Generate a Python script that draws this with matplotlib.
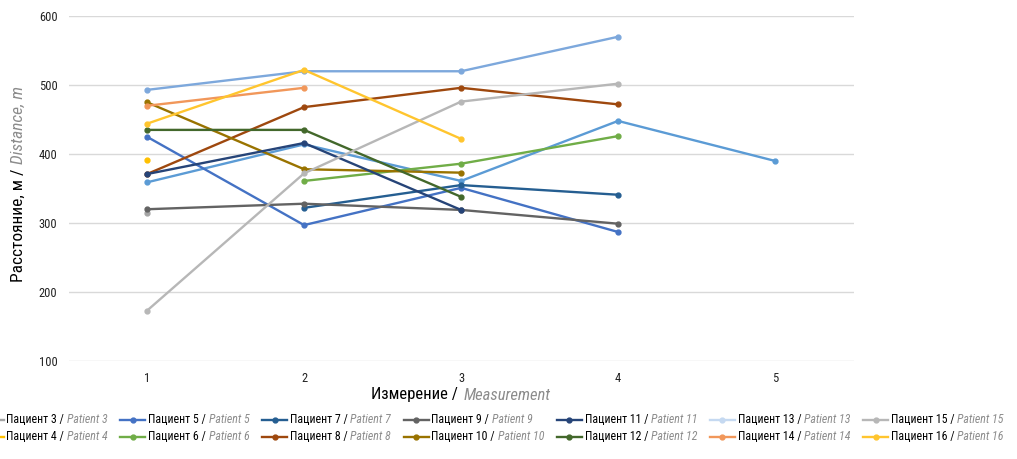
#!/usr/bin/env python3
"""
Distance per measurement, patients 3-16
"""

import numpy as np
import matplotlib
matplotlib.use("Agg")
import matplotlib.pyplot as plt
from matplotlib import font_manager
from matplotlib.lines import Line2D
from matplotlib.offsetbox import (AnchoredOffsetbox, HPacker, VPacker,
                                  TextArea, DrawingArea)

nan = np.nan

measurements = [1, 2, 3, 4, 5]

# one row per patient, nan = no measurement
patient_1 = [359, 414, 361, 448, 390]      # legend entry cut off in the source
patient_3 = [315, nan, nan, nan, nan]
patient_4 = [391, nan, nan, nan, nan]
patient_5 = [425, 297, 351, 287, nan]
patient_6 = [nan, 361, 386, 426, nan]
patient_7 = [nan, 322, 355, 341, nan]
patient_8 = [371, 468, 496, 472, nan]
patient_9 = [320, 328, 319, 299, nan]
patient_10 = [475, 378, 373, nan, nan]
patient_11 = [371, 416, 319, nan, nan]
patient_12 = [435, 435, 338, nan, nan]
patient_13 = [493, 520, 520, 570, nan]
patient_14 = [470, 496, nan, nan, nan]
patient_15 = [173, 372, 476, 502, nan]
patient_16 = [444, 522, 422, nan, nan]

patient_ids = [3, 4, 5, 6, 7, 8, 9, 10, 11, 12, 13, 14, 15, 16]
patient_values = [patient_3, patient_4, patient_5, patient_6, patient_7,
                  patient_8, patient_9, patient_10, patient_11, patient_12,
                  patient_13, patient_14, patient_15, patient_16]

line_colors = {1: "#5B9BD5", 3: "#A5A5A5", 4: "#FFC000", 5: "#4472C4",
               6: "#70AD47", 7: "#255E91", 8: "#9E480E", 9: "#636363",
               10: "#997300", 11: "#264478", 12: "#43682B", 13: "#7DA8DC",
               14: "#F1975A", 15: "#B7B7B7", 16: "#FFC52E"}
legend_colors = dict(line_colors)
legend_colors[13] = "#C5D9F1"

y_ticks = [100, 200, 300, 400, 500, 600]

# pick a narrow font if there is one
available = {f.name for f in font_manager.fontManager.ttflist}
family = "DejaVu Sans"
for name in ["Liberation Sans Narrow", "Roboto Condensed", "Open Sans Condensed"]:
    if name in available:
        family = name
        break
plt.rcParams["font.family"] = [family, "DejaVu Sans"]

fig = plt.figure(figsize=(10.17, 4.59), dpi=100)
ax = fig.add_axes([0.0674, 0.2135, 0.7719, 0.7515])

ax.plot(measurements, patient_1, color=line_colors[1], lw=1.7,
        marker="o", ms=3.5)
for pid, vals in zip(patient_ids, patient_values):
    ax.plot(measurements, vals, color=line_colors[pid], lw=1.7,
            marker="o", ms=3.5)

ax.set_xlim(0.5, 5.5)
ax.set_ylim(100, 600)
ax.set_xticks(measurements)
ax.set_yticks(y_ticks)
ax.tick_params(length=0, labelsize=9, colors="#222222", pad=8)
ax.grid(axis="y", color="#D9D9D9", lw=1)
ax.set_axisbelow(True)
for s in ax.spines.values():
    s.set_visible(False)

grey_it = dict(color="#8C8C8C", style="italic")

# x label with two styles
xlab = HPacker(children=[
    TextArea("Измерение /", textprops=dict(size=12, color="black")),
    TextArea("Measurement", textprops=dict(size=12, **grey_it))],
    align="baseline", pad=0, sep=4)
fig.add_artist(AnchoredOffsetbox(loc="center", child=xlab, frameon=False,
                                 bbox_to_anchor=(0.4533, 1 - 395 / 459),
                                 bbox_transform=fig.transFigure, pad=0,
                                 borderpad=0))

# y label with two styles
ylab = fig.text(0.018, 1 - 282 / 459, "Расстояние, м / ", rotation=90,
                ha="center", va="bottom", size=12.5, color="black")
ax.annotate("Distance, m", xy=(0.5, 1), xycoords=ylab, rotation=90,
            ha="center", va="bottom", size=12.5, **grey_it)


# legend, two rows per column
def legend_row(pid):
    da = DrawingArea(18, 8, 0, 0)
    da.add_artist(Line2D([0, 18], [4, 4], color=legend_colors[pid], lw=1.7))
    da.add_artist(Line2D([9], [4], color=legend_colors[pid], marker="o",
                         ms=3.5))
    return HPacker(children=[
        da,
        TextArea(f"Пациент {pid} /", textprops=dict(size=8.6, color="black")),
        TextArea(f"Patient {pid}", textprops=dict(size=8.6, **grey_it))],
        align="center", pad=0, sep=2)


columns = []
for i in range(0, len(patient_ids), 2):
    columns.append(VPacker(children=[legend_row(patient_ids[i]),
                                     legend_row(patient_ids[i + 1])],
                           align="left", pad=0, sep=3))
leg = HPacker(children=columns, align="top", pad=0, sep=9)
fig.add_artist(AnchoredOffsetbox(loc="upper left", child=leg, frameon=False,
                                 bbox_to_anchor=(-0.021, 1 - 413 / 459),
                                 bbox_transform=fig.transFigure, pad=0,
                                 borderpad=0))

fig.savefig("out.png", dpi=100)
